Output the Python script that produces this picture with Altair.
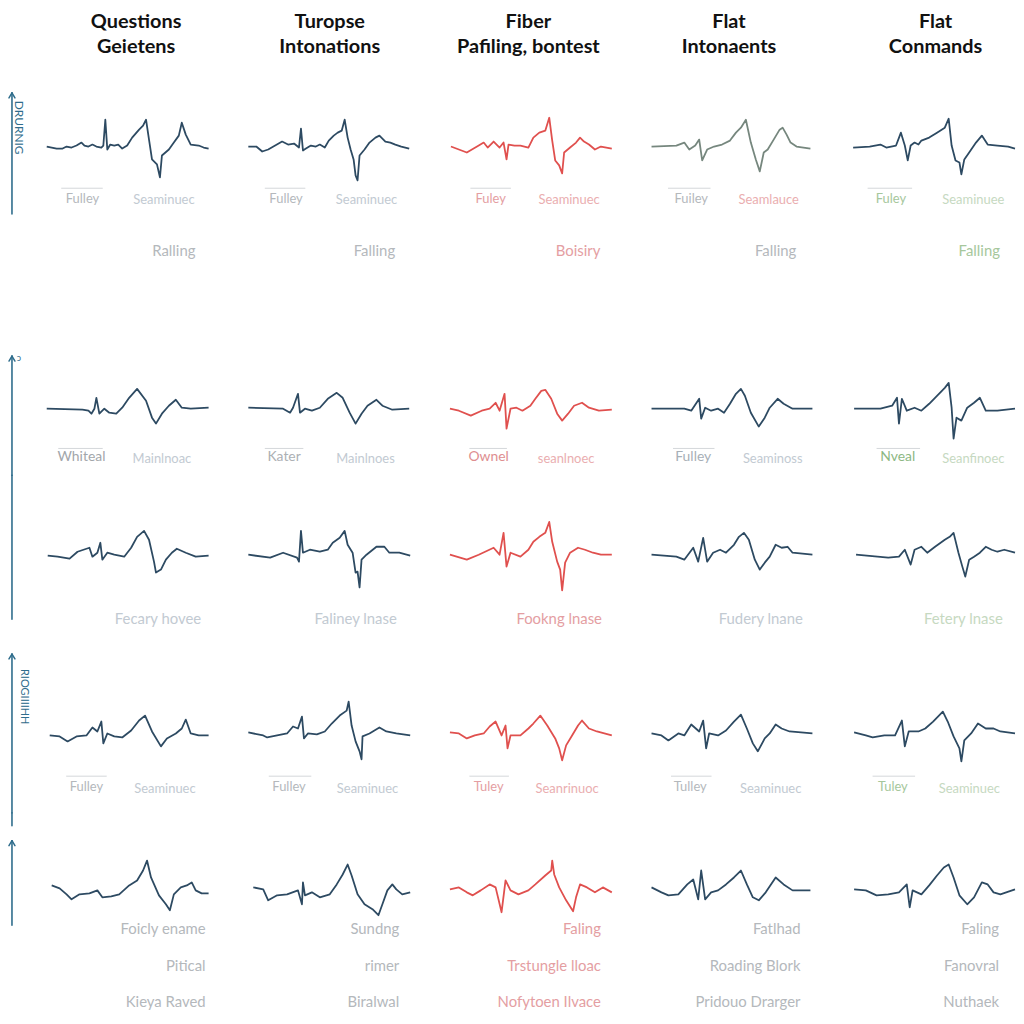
import altair as alt
import pandas as pd

FONT = "Lato"
NAVY = "#2d4a62"
RED = "#e0504e"
SAGE = "#76877e"
ARROW = "#2f6d8c"

# ---------------- column titles ----------------
TITLE_LINE1 = ["Questions", "Turopse", "Fiber", "Flat", "Flat"]
TITLE_LINE2 = ["Geietens", "Intonations", "Pafiling, bontest", "Intonaents", "Conmands"]

# ---------------- labels ----------------
ROW1_A = ["Fulley", "Fulley", "Fuley", "Fuiley", "Fuley"]
ROW1_B = ["Seaminuec", "Seaminuec", "Seaminuec", "Seamlauce", "Seaminuee"]
ROW1_C = ["Ralling", "Falling", "Boisiry", "Falling", "Falling"]
ROW2_A = ["Whiteal", "Kater", "Ownel", "Fulley", "Nveal"]
ROW2_B = ["Mainlnoac", "Mainlnoes", "seanlnoec", "Seaminoss", "Seanfinoec"]
ROW3_A = ["Fecary hovee", "Faliney lnase", "Fookng lnase", "Fudery lnane", "Fetery lnase"]
ROW4_A = ["Fulley", "Fulley", "Tuley", "Tulley", "Tuley"]
ROW4_B = ["Seaminuec", "Seaminuec", "Seanrinuoc", "Seaminuec", "Seaminuec"]
ROW5_A = ["Foicly ename", "Sundng", "Faling", "Fatlhad", "Faling"]
ROW5_B = ["Pitical", "rimer", "Trstungle lloac", "Roading Blork", "Fanovral"]
ROW5_C = ["Kieya Raved", "Biralwal", "Nofytoen Ilvace", "Pridouo Drarger", "Nuthaek"]
AXIS_TEXT_1 = "DRURNIG"
AXIS_TEXT_2 = "ɔ"
AXIS_TEXT_3 = "RIOGIIIIHH"

# ---------------- waveforms: (time, amplitude) ----------------
R1C1 = [(0,1),(5,0),(10,-1),(16,-1),(20,1),(25,0),(30,2),(35,5),(38,2),(42,1),(46,3),(50,1),(55,0),(57,2),(59,28),(61,-2),(64,3),(68,2),(72,3),(76,-1),(81,2),(86,10),(93,18),(97,22),(100,28),(103,8),(106,-12),(111,-17),(114,-30),(116,-8),(123,-2),(128,5),(133,12),(136,25),(140,13),(145,3),(153,2),(158,0),(163,-1)]
R1C2 = [(0,1),(8,1),(14,-4),(20,-2),(27,2),(34,6),(40,3),(46,4),(51,0),(53,19),(55,-3),(58,-1),(63,2),(68,1),(72,3),(77,0),(81,7),(86,12),(90,15),(94,17),(97,28),(100,10),(103,-2),(106,-12),(108,-28),(110,-33),(112,-8),(117,-2),(122,5),(128,10),(132,12),(138,6),(143,5),(148,3),(154,1),(162,-1)]
R1C3 = [(1,1),(17,-5),(29,2),(34,5),(38,0),(44,6),(50,0),(54,5),(57,-12),(59,3),(65,2),(71,2),(79,0),(84,10),(90,15),(96,17),(100,30),(103,7),(106,-13),(110,-18),(113,-26),(115,-5),(121,0),(127,5),(131,10),(135,6),(140,3),(146,-2),(152,1),(163,-1)]
R1C4 = [(0,1),(25,2),(33,5),(38,-2),(44,2),(48,8),(51,-13),(56,-2),(63,1),(71,3),(79,7),(85,15),(90,20),(95,28),(100,5),(105,-12),(109,-24),(113,-5),(117,-2),(123,8),(129,18),(132,20),(136,13),(140,5),(146,1),(160,-1)]
R1C5 = [(0,0),(17,1),(28,3),(34,0),(44,2),(49,15),(53,2),(56,-13),(59,2),(63,5),(67,3),(70,7),(78,10),(86,15),(94,20),(98,29),(101,2),(105,-13),(109,-15),(111,-27),(114,-12),(119,-5),(126,5),(132,12),(138,3),(148,2),(159,1),(166,-1)]

R2C1 = [(0,-1),(36,-2),(42,-3),(45,-6),(48,-1),(50,10),(53,-6),(58,-1),(63,-5),(70,-6),(76,0),(83,10),(91,19),(100,7),(106,-10),(110,-16),(116,-6),(123,2),(130,8),(136,0),(145,-1),(163,0)]
R2C2 = [(0,0),(35,-1),(42,-5),(45,0),(50,14),(52,-5),(57,-1),(64,-3),(72,0),(80,9),(89,15),(95,10),(102,-5),(108,-16),(114,-6),(120,2),(129,8),(135,2),(145,-2),(162,-1)]
R2C3 = [(0,-1),(9,-3),(21,-8),(32,-3),(40,-1),(46,5),(50,-3),(55,14),(57,-21),(61,-1),(67,0),(73,-3),(81,2),(86,9),(92,17),(96,18),(102,9),(108,-6),(113,-13),(119,-6),(125,2),(133,5),(140,0),(150,-3),(163,-2)]
R2C4 = [(0,-1),(33,-1),(40,-3),(48,9),(50,-11),(54,0),(60,-3),(67,-1),(73,-5),(79,4),(85,14),(90,19),(94,12),(100,-5),(108,-19),(114,-10),(119,0),(127,9),(133,4),(142,-1),(162,-1)]
R2C5 = [(1,-1),(28,-1),(40,2),(45,10),(47,-16),(50,9),(55,-3),(63,0),(70,-3),(78,4),(86,12),(94,20),(98,25),(101,0),(103,-31),(106,-10),(111,-13),(117,0),(124,5),(130,10),(136,-3),(148,-3),(166,-1)]

R3C1 = [(1,-1),(11,-2),(23,-4),(31,3),(43,7),(46,-2),(51,2),(54,12),(56,-5),(61,2),(68,0),(78,-2),(85,7),(91,18),(98,24),(103,15),(108,-7),(110,-18),(115,-15),(120,-5),(126,2),(131,6),(140,2),(150,-2),(163,-1)]
R3C2 = [(0,0),(22,-3),(35,2),(49,-3),(51,-7),(53,24),(55,2),(62,5),(72,3),(80,5),(85,12),(92,17),(97,24),(100,10),(105,2),(108,-18),(110,-17),(112,-33),(114,-5),(119,0),(129,8),(137,8),(142,2),(152,2),(163,-1)]
R3C3 = [(0,0),(17,-5),(29,0),(44,7),(50,0),(54,22),(57,-12),(61,2),(71,-2),(79,5),(84,13),(90,18),(96,22),(100,33),(103,13),(108,-7),(111,-15),(113,-36),(116,-8),(121,2),(129,7),(136,5),(144,2),(152,0),(163,0)]
R3C4 = [(0,0),(25,-2),(33,-5),(42,7),(47,-7),(52,17),(56,-7),(62,2),(69,5),(75,2),(83,10),(88,18),(93,22),(98,15),(104,-5),(109,-15),(114,-8),(119,-2),(125,10),(131,7),(137,8),(142,2),(162,0)]
R3C5 = [(3,0),(36,-3),(47,-2),(53,5),(59,-10),(63,5),(70,8),(76,2),(84,8),(94,15),(99,18),(103,22),(108,2),(112,-12),(115,-22),(119,-5),(124,-2),(130,2),(136,8),(142,5),(148,3),(155,5),(166,2)]

R4C1 = [(3,0),(13,-1),(21,-6),(30,-1),(40,0),(46,8),(51,4),(55,14),(57,-8),(61,2),(68,-1),(76,-2),(85,5),(93,15),(99,20),(106,4),(115,-11),(121,-3),(130,2),(136,7),(140,16),(145,2),(153,0),(163,0)]
R4C2 = [(0,3),(15,0),(19,-2),(29,0),(39,2),(45,9),(50,7),(54,19),(56,-3),(60,2),(69,1),(77,4),(84,12),(92,20),(99,25),(101,34),(104,10),(108,-6),(112,-16),(114,-24),(115,-1),(122,2),(132,8),(139,4),(149,2),(163,0)]
R4C3 = [(0,3),(9,2),(17,-3),(25,0),(34,2),(40,9),(46,14),(52,0),(56,10),(58,-13),(61,0),(71,0),(79,7),(84,12),(91,20),(98,10),(106,-3),(110,-13),(113,-25),(117,-10),(123,0),(129,10),(133,15),(140,7),(148,4),(163,0)]
R4C4 = [(0,2),(10,0),(17,-5),(27,2),(33,0),(40,11),(48,4),(52,15),(55,-13),(58,2),(67,0),(75,5),(83,14),(90,21),(96,7),(102,-8),(107,-16),(114,-3),(119,2),(125,11),(131,7),(139,4),(162,2)]
R4C5 = [(1,3),(13,0),(20,-2),(32,0),(43,0),(50,15),(53,-11),(57,4),(67,4),(74,7),(82,14),(92,24),(97,14),(103,-1),(109,-13),(111,-26),(114,-5),(121,2),(128,12),(136,7),(144,7),(151,4),(166,2)]

R5C1 = [(5,5),(13,2),(20,-4),(25,-9),(33,-4),(43,-3),(51,0),(56,-7),(65,-6),(73,-4),(83,5),(91,10),(97,20),(101,30),(105,13),(113,-5),(120,-14),(124,-20),(128,-4),(135,3),(141,5),(146,8),(150,0),(156,-3),(163,-3)]
R5C2 = [(5,3),(15,1),(20,-10),(29,-5),(39,-4),(50,0),(54,-14),(55,8),(57,-5),(64,-2),(72,-7),(82,-4),(89,6),(95,16),(100,26),(104,15),(110,-4),(117,-14),(125,-19),(131,-25),(135,-14),(140,0),(145,6),(149,1),(155,-4),(163,-2)]
R5C3 = [(0,1),(9,3),(17,-2),(23,-5),(31,0),(40,6),(46,3),(52,-22),(56,10),(61,0),(69,-4),(79,0),(86,6),(96,15),(102,20),(103,30),(105,16),(110,3),(117,-10),(124,-21),(127,-7),(131,6),(138,3),(146,-2),(154,3),(163,-2)]
R5C4 = [(0,3),(10,-2),(17,-5),(27,-4),(36,6),(42,11),(47,-9),(50,20),(54,-9),(60,-2),(67,0),(75,6),(83,13),(90,20),(96,6),(102,-7),(108,-10),(115,-2),(125,13),(133,6),(142,0),(160,0)]
R5C5 = [(1,1),(13,0),(24,-5),(36,-4),(47,-2),(55,6),(58,-17),(61,0),(70,-4),(78,5),(86,15),(93,23),(98,26),(103,13),(109,-5),(117,-14),(124,-7),(132,8),(138,6),(144,-2),(151,-4),(166,1)]

WAVES = [
    [R1C1, R1C2, R1C3, R1C4, R1C5],
    [R2C1, R2C2, R2C3, R2C4, R2C5],
    [R3C1, R3C2, R3C3, R3C4, R3C5],
    [R4C1, R4C2, R4C3, R4C4, R4C5],
    [R5C1, R5C2, R5C3, R5C4, R5C5],
]

# ---------------- layout / style ----------------
PANEL_W = 163
ROW_H = [292, 175, 165, 175, 201]
ROW_BASE = [137, 107, 80, 97, 78]
LINE_COLORS = [
    [NAVY, NAVY, RED, SAGE, NAVY],
    [NAVY, NAVY, RED, NAVY, NAVY],
    [NAVY, NAVY, RED, NAVY, NAVY],
    [NAVY, NAVY, RED, NAVY, NAVY],
    [NAVY, NAVY, RED, NAVY, NAVY],
]
GRAY = "#b4b8bc"
BLUEGRAY = "#c2cad2"
PINK = "#e49ea2"
PINK2 = "#eaaeb0"
GREEN = "#a6c79c"
GREEN2 = "#c6d9c1"
RULE = "#d4d7da"
ARROW_X = -35


def txt(s, x, y, size, color, align="center", weight="normal", angle=0, baseline="middle"):
    return alt.Chart(pd.DataFrame({"s": [s]})).mark_text(
        align=align, baseline=baseline, fontSize=size, color=color,
        font=FONT, fontWeight=weight, angle=angle
    ).encode(text="s:N", x=alt.value(x), y=alt.value(y))


def seg(x1, y1, x2, y2, color, width):
    return alt.Chart(pd.DataFrame({"s": [0]})).mark_rule(
        color=color, strokeWidth=width, strokeCap="round"
    ).encode(x=alt.value(x1), x2=alt.value(x2), y=alt.value(y1), y2=alt.value(y2))


def hrule(x1, x2, y):
    return seg(x1, y, x2, y, RULE, 1)


def vrule(y1, y2):
    return seg(ARROW_X, y1, ARROW_X, y2, ARROW, 1.6)


def head(y):
    return [seg(ARROW_X - 3, y + 5, ARROW_X, y, ARROW, 1.5),
            seg(ARROW_X + 3, y + 5, ARROW_X, y, ARROW, 1.5)]


def wave_layer(r, c):
    df = pd.DataFrame(WAVES[r][c], columns=["t", "v"])
    b, h = ROW_BASE[r], ROW_H[r]
    x_max = max(PANEL_W, max(t for t, _ in WAVES[r][c]))
    return alt.Chart(df).mark_line(
        color=LINE_COLORS[r][c], strokeWidth=1.8, strokeJoin="round"
    ).encode(
        x=alt.X("t:Q", scale=alt.Scale(domain=[0, x_max], nice=False, zero=False), axis=None),
        y=alt.Y("v:Q", scale=alt.Scale(domain=[b - h, b], nice=False, zero=False), axis=None),
    )


def arrows(r):
    # left-hand arrows, drawn in the first column's panels (outside their plot area)
    if r == 0:
        return [vrule(82, 204)] + head(82) + [txt(AXIS_TEXT_1, ARROW_X + 7, 117, 12, ARROW, angle=90)]
    if r == 1:
        return [vrule(55, ROW_H[1])] + head(55) + [txt(AXIS_TEXT_2, ARROW_X + 7, 57, 9, ARROW)]
    if r == 2:
        return [vrule(0, 145)]
    if r == 3:
        return [vrule(15, ROW_H[3])] + head(15) + [txt(AXIS_TEXT_3, ARROW_X + 12, 58, 11, ARROW, angle=90)]
    return [vrule(0, 13), vrule(28, 113)] + head(28)


def row1(c):
    tx = [90, 82, 79, 78, 83][c]
    rl = [(15, 56), (17, 57), (21, 61), (17, 59), (15, 59)][c]
    ax = [36, 38, 41, 40, 38][c]
    bx = [118, 119, 120, 118, 121][c]
    cx = [128, 127, 129, 125, 127][c]
    ca = [GRAY, GRAY, PINK, GRAY, GREEN][c]
    cb = [BLUEGRAY, BLUEGRAY, PINK2, PINK2, GREEN2][c]
    cc = [GRAY, GRAY, PINK, GRAY, GREEN][c]
    return [
        wave_layer(0, c),
        txt(TITLE_LINE1[c], tx, 1, 20, "#111111", weight="bold", baseline="top"),
        txt(TITLE_LINE2[c], tx, 26, 20, "#111111", weight="bold", baseline="top"),
        hrule(rl[0], rl[1], 178),
        txt(ROW1_A[c], ax, 189, 13, ca),
        txt(ROW1_B[c], bx, 190, 13, cb),
        txt(ROW1_C[c], cx, 241, 15, cc),
    ]


def row2(c):
    rl = [(12, 56), (17, 55), (20, 57), (22, 63), (24, 67)][c]
    ax = [35, 36, 39, 42, 45][c]
    bx = [116, 118, 117, 122, 121][c]
    ca = ["#a2a6aa", "#acb0b4", "#de8e90", "#a7afb7", "#8db884"][c]
    cb = [BLUEGRAY, BLUEGRAY, PINK2, BLUEGRAY, GREEN2][c]
    return [
        wave_layer(1, c),
        hrule(rl[0], rl[1], 148),
        txt(ROW2_A[c], ax, 157, 14, ca),
        txt(ROW2_B[c], bx, 159, 13, cb),
    ]


def row3(c):
    x = [112, 108, 110, 110, 111][c]
    col = [BLUEGRAY, BLUEGRAY, PINK, BLUEGRAY, GREEN2][c]
    return [wave_layer(2, c), txt(ROW3_A[c], x, 145, 15, col)]


def row4(c):
    rl = [(20, 60), (21, 63), (20, 59), (20, 60), (20, 62)][c]
    ax = [40, 41, 39, 39, 40][c]
    bx = [119, 120, 118, 120, 117][c]
    ca = [GRAY, GRAY, PINK, GRAY, GREEN][c]
    cb = [BLUEGRAY, BLUEGRAY, PINK2, BLUEGRAY, GREEN2][c]
    return [
        wave_layer(3, c),
        hrule(rl[0], rl[1], 138),
        txt(ROW4_A[c], ax, 149, 13, ca),
        txt(ROW4_B[c], bx, 151, 13, cb),
    ]


def row5(c):
    rx = [160, 152, 152, 150, 147][c]
    col = [GRAY, GRAY, PINK, GRAY, GRAY][c]
    return [
        wave_layer(4, c),
        txt(ROW5_A[c], rx, 117, 15, col, align="right"),
        txt(ROW5_B[c], rx, 154, 15, col, align="right"),
        txt(ROW5_C[c], rx, 190, 15, col, align="right"),
    ]


panels = []
for r, f in enumerate((row1, row2, row3, row4, row5)):
    for c in range(5):
        layers = f(c)
        if c == 0:
            layers = layers + arrows(r)
        panels.append(alt.layer(*layers).properties(width=PANEL_W, height=ROW_H[r]))

chart = alt.concat(
    *panels, columns=5, spacing={"row": 0, "column": 40}, bounds="flush"
).properties(
    padding={"left": 0, "right": 0, "top": 0, "bottom": 0}, background="#ffffff"
).configure(padding=0).configure_view(stroke=None)

chart.save("out.html", embed_options={"renderer": "svg", "actions": False})
